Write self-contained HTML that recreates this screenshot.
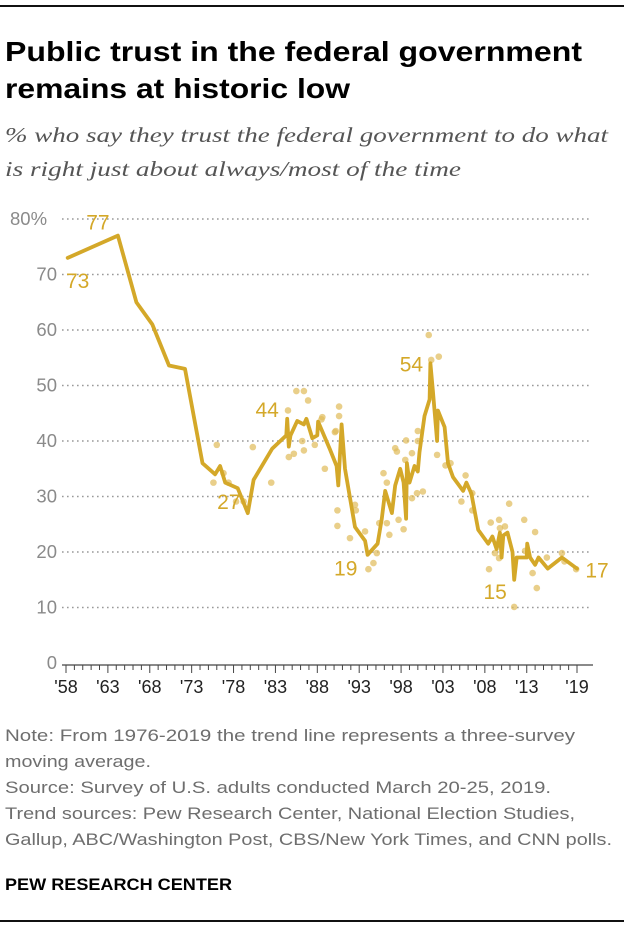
<!DOCTYPE html>
<html><head><meta charset="utf-8"><style>
html,body{margin:0;padding:0;background:#fff;}
svg{display:block;font-family:"Liberation Sans",sans-serif;}
</style></head><body>
<svg id="chart" width="624" height="928" viewBox="0 0 624 928" xmlns="http://www.w3.org/2000/svg">
<line x1="0" y1="6" x2="624" y2="6" stroke="#111" stroke-width="2"/>
<text x="5" y="61" font-size="28" font-weight="bold" fill="#000" textLength="577" lengthAdjust="spacingAndGlyphs">Public trust in the federal government</text>
<text x="5" y="98" font-size="28" font-weight="bold" fill="#000" textLength="345" lengthAdjust="spacingAndGlyphs">remains at historic low</text>
<text x="5" y="142" font-family="Liberation Serif, serif" font-style="italic" font-size="21" fill="#555" textLength="603" lengthAdjust="spacingAndGlyphs">% who say they trust the federal government to do what</text>
<text x="5" y="176" font-family="Liberation Serif, serif" font-style="italic" font-size="21" fill="#555" textLength="456" lengthAdjust="spacingAndGlyphs">is right just about always/most of the time</text>
<g id="grid"></g><g id="axis"></g><g id="dots"></g><g id="line"></g><g id="labels"></g>
<g font-size="16.5" fill="#6e6e6e">
<text x="5" y="741" textLength="570" lengthAdjust="spacingAndGlyphs">Note: From 1976-2019 the trend line represents a three-survey</text>
<text x="5" y="767" textLength="146" lengthAdjust="spacingAndGlyphs">moving average.</text>
<text x="5" y="793" textLength="546" lengthAdjust="spacingAndGlyphs">Source: Survey of U.S. adults conducted March 20-25, 2019.</text>
<text x="5" y="819" textLength="570" lengthAdjust="spacingAndGlyphs">Trend sources: Pew Research Center, National Election Studies,</text>
<text x="5" y="845" textLength="607" lengthAdjust="spacingAndGlyphs">Gallup, ABC/Washington Post, CBS/New York Times, and CNN polls.</text>
</g>
<text x="5" y="890" font-size="17" font-weight="bold" fill="#000" textLength="227" lengthAdjust="spacingAndGlyphs">PEW RESEARCH CENTER</text>
<line x1="0" y1="921" x2="624" y2="921" stroke="#111" stroke-width="2"/>
</svg>
<script>
const yTicks = [0,10,20,30,40,50,60,70,80];
const yTickLabels = ["0","10","20","30","40","50","60","70","80%"];
const xTickLabels = ["'58","'63","'68","'73","'78","'83","'88","'93","'98","'03","'08","'13","'19"];
const xTickYears = [1958,1963,1968,1973,1978,1983,1988,1993,1998,2003,2008,2013,2019];
const trendYears = [1958.2,1964.2,1966.4,1968.3,1970.3,1972.2,1974.3,1975.8,1976.4,1977,1978.5,1979.7,1980.4,1982.6,1984.3,1984.4,1984.6,1984.8,1985.6,1986.4,1986.7,1987.4,1988,1988.1,1989.5,1990.3,1990.5,1990.9,1991.3,1992.5,1993.7,1994,1995.2,1995.7,1996.1,1996.9,1997.3,1997.9,1998.3,1998.6,1998.7,1999,1999.6,2000,2000.2,2000.8,2001.4,2001.5,2001.8,2002.3,2002.4,2003.2,2003.6,2004.2,2005.4,2005.8,2006.4,2007.2,2008.4,2008.9,2009.4,2009.8,2010,2010.2,2010.7,2011.3,2011.5,2011.8,2013,2013.05,2013.4,2014,2014.4,2015.5,2017.2,2019];
const trendValues = [73,77,65,61,53.6,53,36,34,35.5,32.5,31.5,27,33,38.6,41,44,39,41,43.6,43,44,40.5,41,43.5,38.5,35.5,32,43,35,24.5,22,19.5,21.5,26,31,27,32,35,32.5,26,36,32.5,35.5,34.5,38,44.5,47.5,54,49,40,45.5,42.5,36,33.5,31,32.5,30.5,24,21.5,22.8,20.5,23.5,19,23,23.5,20,15,19,19,21.5,19,17.7,19,17,19,17];
const pollYears = [1976.0,1975.6,1976.8,1977.4,1978.3,1979.2,1980.3,1982.5,1984.5,1985.5,1986.4,1986.9,1984.6,1985.2,1986.4,1986.2,1987.7,1988.6,1988.9,1990.2,1990.6,1990.6,1990.4,1988.5,1990.1,1990.4,1991.9,1992.5,1992.6,1993.7,1994.1,1994.7,1995.1,1995.4,1995.9,1996.3,1996.3,1996.6,1997.3,1997.5,1997.7,1998.3,1998.6,1998.5,1999.3,1999.3,1999.9,2000.0,2000.0,2000.6,2001.3,2001.6,2002.5,2002.3,2003.3,2003.9,2005.7,2005.2,2006.5,2006.5,2008.7,2009.7,2010.9,2009.8,2010.4,2008.5,2009.2,2009.7,2011.5,2012.7,2012.8,2013.7,2014.0,2014.2,2015.4,2017.2,2017.5,2018.9];
const pollValues = [39.3,32.5,34.2,32.5,29.1,29.1,38.9,32.5,45.5,49,49,47.3,37.1,37.7,38.3,40,39.3,44.3,35,41.8,46.2,44.5,27.5,43.9,41.6,24.7,22.5,28.5,27.5,23.7,16.9,18,19.8,25.2,34.2,32.5,25.2,23.1,38.7,38.1,25.8,24.1,40.1,36.6,37.8,29.7,30.6,41.8,40,30.9,59.1,54.6,55.2,37.5,35.6,36,33.8,29.1,30.6,27.5,25.3,25.8,28.7,24.3,24.6,16.9,19.8,18.9,10.1,25.8,20.2,16.2,23.6,13.5,19,19.8,18.3,16.9];
const annotYears = [1958.2,1964.2,1979.7,1984.4,1993.9,2001.5,2011.5,2019];
const annotValues = [73,77,27,44,19,54,15,17];

const NS='http://www.w3.org/2000/svg';
const X0=66,X1=577,Y0=663,PER10=55.5;
function xs(y){return X0+(y-1958)*(X1-X0)/61;}
function ys(v){return Y0-v*PER10/10;}
function mk(tag,attrs,parent){const e=document.createElementNS(NS,tag);for(const k in attrs)e.setAttribute(k,attrs[k]);parent.appendChild(e);return e;}
const grid=document.getElementById('grid'),axis=document.getElementById('axis'),dots=document.getElementById('dots'),lineG=document.getElementById('line'),labels=document.getElementById('labels');

yTicks.forEach((v,i)=>{
  if(v>0){
    const l=mk('line',{x1:62,x2:590,y1:ys(v),y2:ys(v),stroke:'#999','stroke-width':1.6,'stroke-dasharray':'1.6 3.4'},grid);
    
    
  }
  const t=mk('text',{x:v===80?10:57,y:ys(v)+6,'font-size':18.5,fill:'#8a8a8a','text-anchor':v===80?'start':'end'},axis);
  t.textContent=yTickLabels[i];
  
  
});
const base=mk('line',{x1:62,x2:593,y1:Y0+2,y2:Y0+2,stroke:'#444','stroke-width':1.2},axis);


for(let yr=1958;yr<=2019;yr++){
  const major=xTickYears.indexOf(yr)>=0;
  const tk=mk('line',{x1:xs(yr),x2:xs(yr),y1:Y0+2,y2:Y0+(major?10:7),stroke:'#444','stroke-width':1},axis);
  
  
}
xTickYears.forEach((yr,i)=>{
  const t=mk('text',{x:xs(yr),y:Y0+30,'font-size':18,fill:'#222','text-anchor':'middle'},axis);
  t.textContent=xTickLabels[i];
  
  
});
pollYears.forEach((yr,i)=>{
  const c=mk('circle',{cx:xs(yr),cy:ys(pollValues[i]),r:3.3,fill:'#dfbb58','fill-opacity':0.7},dots);
  
  
});
const pts=trendYears.map((yr,i)=>xs(yr).toFixed(1)+','+ys(trendValues[i]).toFixed(1)).join(' ');
const pl=mk('polyline',{points:pts,fill:'none',stroke:'#d4a829','stroke-width':3.8,'stroke-linejoin':'round','stroke-linecap':'round'},lineG);


const offs=[[10,30],[-20,-6],[-19,-4],[-20,-2],[-21,18],[-19,8],[-19,19],[20,9]];
annotYears.forEach((yr,i)=>{
  const t=mk('text',{x:xs(yr)+offs[i][0],y:ys(annotValues[i])+offs[i][1],'font-size':21,fill:'#d4a829','text-anchor':'middle'},labels);
  t.textContent=annotValues[i];
  
  
});
</script>
</body></html>
